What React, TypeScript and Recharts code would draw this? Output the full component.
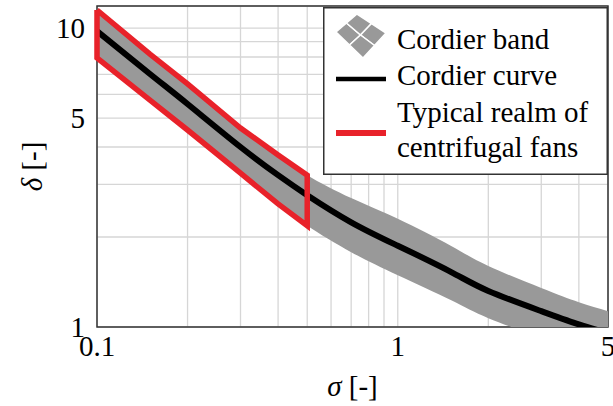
import {
  Area,
  CartesianGrid,
  ComposedChart,
  Legend,
  Line,
  ReferenceArea,
  Scatter,
  XAxis,
  YAxis
} from "recharts";

const SERIF = "Liberation Serif";

// specific speed sigma, specific diameter delta
const SIGMA = [0.1, 0.15, 0.2, 0.3, 0.4, 0.5, 0.7, 1, 1.5, 2, 3, 4, 5];
const CORDIER_CURVE = [9.77, 7.02, 5.57, 4.0, 3.22, 2.76, 2.24, 1.87, 1.53, 1.32, 1.13, 1.02, 0.955];
const BAND_UPPER = [11.49, 8.18, 6.5, 4.63, 3.76, 3.22, 2.7, 2.3, 1.87, 1.6, 1.35, 1.21, 1.13];
const BAND_LOWER = [7.94, 5.74, 4.56, 3.27, 2.58, 2.18, 1.78, 1.49, 1.23, 1.07, 0.92, 0.83, 0.78];

// centrifugal fans: sigma 0.1 .. 0.5, bounded by the band
const FAN_SIGMA = [0.1, 0.15, 0.2, 0.3, 0.4, 0.5];
const FAN_UPPER = [11.49, 8.18, 6.5, 4.63, 3.76, 3.22];
const FAN_LOWER = [7.94, 5.74, 4.56, 3.27, 2.58, 2.18];

const X_DOMAIN = [0.1, 5];
const Y_DOMAIN = [1, 11.85];
// grid at every decade step, labels only on some
const X_TICKS = [0.1, 0.2, 0.3, 0.4, 0.5, 0.6, 0.7, 0.8, 0.9, 1, 2, 3, 4, 5];
const X_LABELS = [0.1, 1, 5];
const Y_TICKS = [1, 2, 3, 4, 5, 6, 7, 8, 9, 10];
const Y_LABELS = [1, 5, 10];

const data = SIGMA.map((s, i) => ({
  sigma: s,
  curve: CORDIER_CURVE[i],
  band: [BAND_LOWER[i], BAND_UPPER[i]]
}));

const fanPolygon = [
  ...FAN_SIGMA.map((s, i) => ({ x: s, y: FAN_UPPER[i] })),
  ...FAN_SIGMA.map((s, i) => ({ x: s, y: FAN_LOWER[i] })).reverse(),
  { x: FAN_SIGMA[0], y: FAN_UPPER[0] }
];

// text is set at 26px and scaled up, the serif face only resolves at smaller sizes here
const BASE_SIZE = 26;
const K = 29 / 26;

function SerifText({ x, y, rotate = 0, anchor = "start", dy = "0", children }: any) {
  return (
    <text
      transform={`translate(${x}, ${y}) rotate(${rotate}) scale(${K})`}
      textAnchor={anchor}
      dy={dy}
      fontFamily={SERIF}
      fontSize={BASE_SIZE}
      fill="#000"
    >
      {children}
    </text>
  );
}

function XTick(props: any) {
  const v = props.payload.value;
  if (!X_LABELS.includes(v)) return <g />;
  return (
    <SerifText x={props.x} y={props.y} anchor="middle" dy="0.71em">
      {String(v)}
    </SerifText>
  );
}

function YTick(props: any) {
  const v = props.payload.value;
  if (!Y_LABELS.includes(v)) return <g />;
  return (
    <SerifText x={props.x} y={props.y} anchor="end" dy="0.355em">
      {String(v)}
    </SerifText>
  );
}

function YLabel(props: any) {
  const vb = props.viewBox;
  return (
    <SerifText x={vb.x + 42} y={vb.y + vb.height / 2} rotate={-90} anchor="middle">
      <tspan fontStyle="italic">δ</tspan> [-]
    </SerifText>
  );
}

function XLabel(props: any) {
  const vb = props.viewBox;
  return (
    <SerifText x={vb.x + vb.width / 2} y={vb.y + 69} anchor="middle">
      <tspan fontStyle="italic">σ</tspan> [-]
    </SerifText>
  );
}

function BandLegend() {
  const L = [13, 25], T = [34, 7], R = [63, 26], B = [40, 51], C = [37.5, 28];
  const mid = (a: number[], b: number[]) => [(a[0] + b[0]) / 2, (a[1] + b[1]) / 2];
  const LT = mid(L, T), TR = mid(T, R), RB = mid(R, B), BL = mid(B, L);
  const quads = [
    [L, LT, C, BL],
    [LT, T, TR, C],
    [C, TR, R, RB],
    [BL, C, RB, B]
  ];
  const rows = ["Cordier band", "Cordier curve", "Typical realm of", "centrifugal fans"];
  const baselines = [42, 78, 115, 150];
  return (
    <svg width={285} height={168} style={{ display: "block" }}>
      <rect x={0.75} y={0.75} width={283.5} height={166.5} fill="#fff" stroke="#333" strokeWidth={1.5} />
      {quads.map((q, i) => (
        <polygon
          key={i}
          points={q.map((p) => p.join(",")).join(" ")}
          fill="#999"
          stroke="#fff"
          strokeWidth={1.5}
        />
      ))}
      <line x1={13} y1={72} x2={63} y2={72} stroke="#000" strokeWidth={4.5} />
      <line x1={13} y1={126} x2={63} y2={126} stroke="#e8222a" strokeWidth={6} />
      {rows.map((r, i) => (
        <SerifText key={r} x={74} y={baselines[i]}>
          {r}
        </SerifText>
      ))}
    </svg>
  );
}

export default function App() {
  return (
    <div style={{ position: "absolute", left: 0, top: 0, background: "#fff" }}>
      <ComposedChart
        width={613}
        height={406}
        data={data}
        margin={{ top: 6, right: 5, bottom: 0, left: 0 }}
      >
        <CartesianGrid stroke="#d6d6d6" strokeWidth={1.3} />
        <XAxis
          dataKey="sigma"
          type="number"
          scale="log"
          domain={X_DOMAIN}
          ticks={X_TICKS}
          interval={0}
          allowDataOverflow
          axisLine={false}
          tickLine={false}
          height={79}
          tick={<XTick />}
          label={<XLabel />}
        />
        <YAxis
          type="number"
          scale="log"
          domain={Y_DOMAIN}
          ticks={Y_TICKS}
          interval={0}
          allowDataOverflow
          axisLine={false}
          tickLine={false}
          width={97}
          tickMargin={6}
          tick={<YTick />}
          label={<YLabel />}
        />
        <XAxis xAxisId="fan" dataKey="x" type="number" scale="log" domain={X_DOMAIN} hide />
        <YAxis yAxisId="fan" dataKey="y" type="number" scale="log" domain={Y_DOMAIN} hide />
        <ReferenceArea
          x1={X_DOMAIN[0]}
          x2={X_DOMAIN[1]}
          y1={Y_DOMAIN[0]}
          y2={Y_DOMAIN[1]}
          fill="none"
          stroke="#333"
          strokeWidth={1.5}
        />
        <Area
          dataKey="band"
          type="natural"
          fill="#999"
          fillOpacity={1}
          stroke="none"
          isAnimationActive={false}
        />
        <Line
          dataKey="curve"
          type="natural"
          stroke="#000"
          strokeWidth={6}
          dot={false}
          isAnimationActive={false}
        />
        <Scatter
          data={fanPolygon}
          xAxisId="fan"
          yAxisId="fan"
          dataKey="y"
          line={{ stroke: "#e8222a", strokeWidth: 5.5, strokeLinejoin: "miter" }}
          shape={() => <g />}
          legendType="none"
          isAnimationActive={false}
        />
        <Legend
          layout="vertical"
          align="center"
          verticalAlign="middle"
          wrapperStyle={{ top: 7, left: 323, width: 285, height: 168 }}
          content={() => <BandLegend />}
        />
      </ComposedChart>
    </div>
  );
}
